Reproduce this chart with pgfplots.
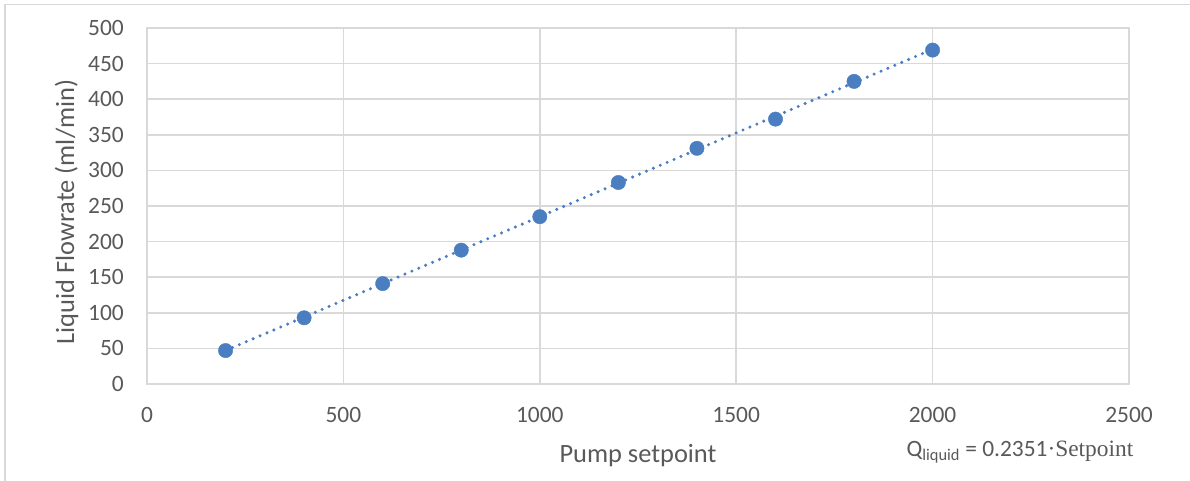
\documentclass[border=0pt]{standalone}
\usepackage{fontspec}
\setmainfont{Carlito}
\newfontfamily\serifx{Liberation Serif}
\usepackage{pgfplots}
\pgfplotsset{compat=1.18}
\definecolor{ptblue}{RGB}{74,126,193}
\definecolor{gridc}{RGB}{217,217,217}
\definecolor{txt}{RGB}{89,89,89}
\begin{document}
\begin{tikzpicture}
\useasboundingbox (0,0) rectangle (1190bp,-481bp);
\draw[gridc, line width=1.2bp] (5bp,-481bp) -- (5bp,-4.5bp) -- (1190bp,-4.5bp);
\begin{axis}[
 at={(147bp,-384bp)}, anchor=south west,
 scale only axis, width=982bp, height=356bp,
 xmin=0, xmax=2500, ymin=0, ymax=500,
 xtick={0,500,...,2500}, ytick={0,50,...,500},
 grid=major, major grid style={gridc, line width=1.5bp},
 axis line style={gridc, line width=1.5bp},
 major tick length=0pt,
 tick label style={font=\fontsize{23.5}{28}\selectfont, text=txt},
 /pgf/number format/assume math mode=true,
 /pgf/number format/1000 sep={},
 xticklabel style={anchor=center, yshift=-31bp},
 yticklabel style={anchor=east, inner sep=0pt, xshift=-23bp},
 label style={font=\fontsize{26.5}{30}\selectfont, text=txt},
 xlabel={Pump setpoint},
 xlabel style={at={(axis description cs:0.5,-0.2)}, anchor=center},
 ylabel={Liquid Flowrate (ml/min)},
 ylabel style={at={(axis description cs:-0.082,0.483)}, anchor=center},
 clip=false,
]
\addplot[ptblue, line width=3.4bp, line cap=round, dash pattern=on 0bp off 7.5bp]
 coordinates {(200,47.02) (2000,470.2)};
\addplot[only marks, mark=*, mark size=7.2bp, ptblue, mark options={draw=ptblue, fill=ptblue}]
 coordinates {(200,47) (400,93) (600,141) (800,188) (1000,235) (1200,283) (1400,331) (1600,372) (1800,425) (2000,469)};
\node[anchor=center, font=\fontsize{23.5}{28}\selectfont, text=txt, inner sep=0pt]
 at (axis description cs:0.889,-0.191) {Q\textsubscript{liquid} = 0.2351{\serifx ·Setpoint}};
\end{axis}
\end{tikzpicture}
\end{document}
